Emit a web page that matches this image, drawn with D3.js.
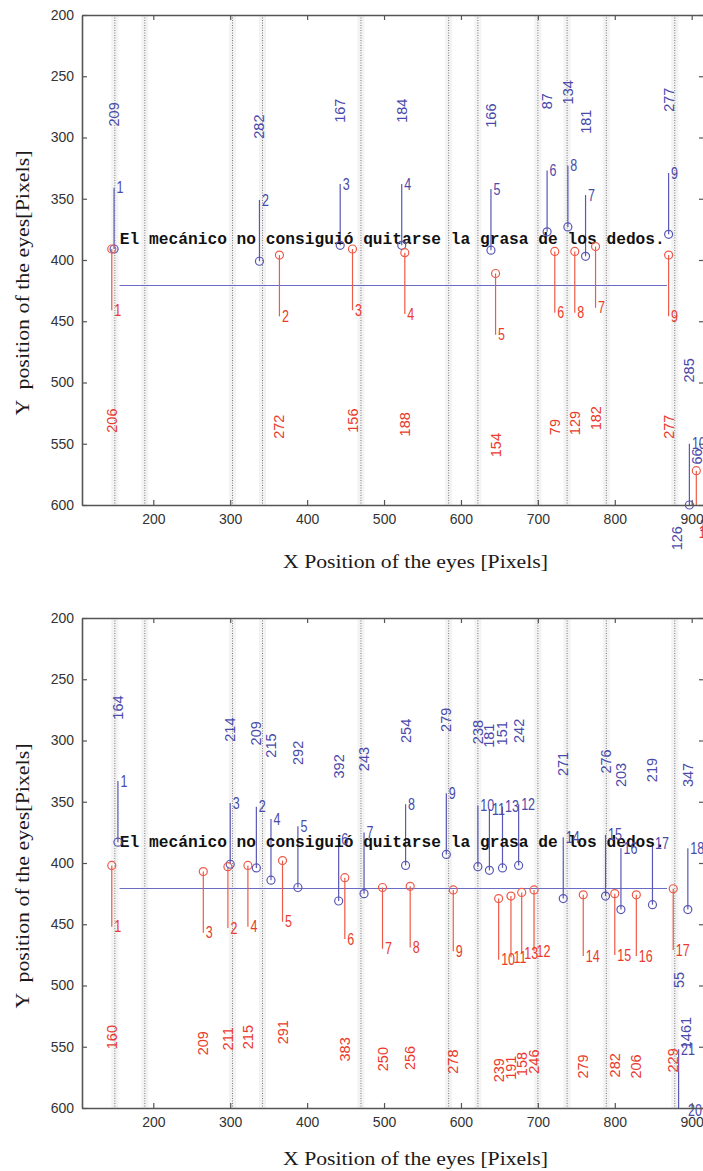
<!DOCTYPE html>
<html>
<head>
<meta charset="utf-8">
<script src="https://cdn.jsdelivr.net/npm/d3@7/dist/d3.min.js"></script>
<style>
  body { margin: 0; background: #fff; }
  text { white-space: pre; }
</style>
</head>
<body>
<div id="main"></div>
<script>

var sentence = 'El mecánico no consiguió quitarse la grasa de los dedos.';
var xTicks = [200, 300, 400, 500, 600, 700, 800, 900];
var yTicks = [200, 250, 300, 350, 400, 450, 500, 550, 600];
// word boundaries (dotted lines)
var wordBounds = [150, 189, 303, 342, 470, 584, 622, 700, 738, 789, 878];
// baseline of the sentence and the reading line
var textX = 156.5, textY = 387;
var lineY = 420, lineStart = 156, lineEnd = 868;

// top panel - blue fixations
var blueA_idx = [1, 2, 3, 4, 5, 6, 7, 8, 9, 10, 11, 12];
var blueA_x = [149, 338, 443, 523, 639, 712, 762, 739, 870, 897, 907, 881];
var blueA_y = [391, 401, 388, 388, 392, 377, 397, 373, 379, 600, 667, 737];
var blueA_dur = [209, 282, 167, 184, 166, 87, 181, 134, 277, 285, 66, 126];

// top panel - red fixations
var redA_idx = [1, 2, 3, 4, 5, 6, 7, 8, 9, 10];
var redA_x = [146, 364, 459, 527, 645, 722, 775, 748, 870, 906];
var redA_y = [391, 396, 391, 394, 411, 393, 389, 393, 396, 572];
var redA_dur = [206, 272, 156, 188, 154, 79, 182, 129, 277, null];

// bottom panel - blue fixations
var blueB_idx = [1, 2, 3, 4, 5, 6, 7, 8, 9, 10, 11, 12, 13, 14, 15, 16, 17, 18, 20, 21];
var blueB_x = [154, 334, 300, 353, 388, 441, 474, 528, 581, 622, 637, 675, 654, 733, 788, 808, 849, 895, 892, 883];
var blueB_y = [383, 404, 401, 414, 420, 431, 425, 402, 393, 403, 406, 402, 404, 429, 427, 438, 434, 438, 652, 602];
var blueB_dur = [164, 209, 214, 215, 292, 392, 243, 254, 279, 238, 181, 242, 151, 271, 276, 203, 219, 347, 1461, 55];

// bottom panel - red fixations
var redB_idx = [1, 2, 3, 4, 5, 6, 7, 8, 9, 10, 11, 12, 13, 14, 15, 16, 17];
var redB_x = [146, 297, 265, 323, 368, 449, 498, 534, 590, 649, 665, 695, 679, 759, 800, 828, 876];
var redB_y = [402, 403, 407, 402, 398, 412, 420, 419, 422, 429, 427, 422, 424, 426, 425, 426, 421];
var redB_dur = [160, 211, 209, 215, 291, 383, 250, 256, 278, 239, 191, 246, 158, 279, 282, 206, 229];

var stemLen = 50;
var blue = '#5858b6', blueText = '#4a4aaa';
var red = '#ee5a48', redText = '#ea3a2c';

var width = 703, height = 1171;

var svg = d3.select('#main').append('svg')
  .attr('width', width).attr('height', height)
  .style('font-family', '"Liberation Sans", Arial, sans-serif');

function zip(idx, xs, ys, durs) {
  return idx.map(function (d, i) {
    return { idx: d, x: xs[i], y: ys[i], dur: durs[i] };
  });
}

function draw_panel(id, top, clipTop, clipBottom, xTitleY, yTitleY, blues, reds) {

  var x = d3.scaleLinear().domain([107.3, 916]).range([82, 704]);
  var y = d3.scaleLinear().domain([200, 600]).range([top, top + 490]);

  var defs = svg.append('defs');
  defs.append('clipPath').attr('id', 'plot' + id)
    .append('rect').attr('x', 82).attr('y', top).attr('width', 622).attr('height', 490);
  defs.append('clipPath').attr('id', 'panel' + id)
    .append('rect').attr('x', 0).attr('y', clipTop).attr('width', width).attr('height', clipBottom - clipTop);

  var g = svg.append('g').attr('clip-path', 'url(#panel' + id + ')');
  var plot = g.append('g').attr('clip-path', 'url(#plot' + id + ')');

  // word boundary lines
  plot.selectAll('.band')
    .data(wordBounds)
    .enter()
    .append('line')
    .attr('x1', function (d) { return x(d); })
    .attr('x2', function (d) { return x(d); })
    .attr('y1', top).attr('y2', top + 490)
    .attr('stroke', '#f3f3f3').attr('stroke-width', 7);

  plot.selectAll('.bound')
    .data(wordBounds)
    .enter()
    .append('line')
    .attr('x1', function (d) { return x(d); })
    .attr('x2', function (d) { return x(d); })
    .attr('y1', top).attr('y2', top + 490)
    .attr('stroke', '#7a7a7a').attr('stroke-width', 1)
    .attr('stroke-dasharray', '1,1.5');

  // sentence
  g.append('text')
    .attr('x', x(textX)).attr('y', y(textY))
    .attr('font-family', '"Liberation Mono", "Courier New", monospace')
    .attr('font-weight', 'bold')
    .attr('font-size', 16.5)
    .attr('textLength', 545)
    .attr('lengthAdjust', 'spacingAndGlyphs')
    .attr('fill', '#111')
    .text(sentence);

  // reading line
  plot.append('line')
    .attr('x1', x(lineStart)).attr('x2', x(lineEnd))
    .attr('y1', Math.round(y(lineY)) + 0.5).attr('y2', Math.round(y(lineY)) + 0.5)
    .attr('stroke', '#6b6bc4').attr('stroke-width', 1.2);

  function marks(data, color, textColor, dir, durOffset) {

    plot.selectAll(null)
      .data(data)
      .enter()
      .append('line')
      .attr('x1', function (d) { return x(d.x); })
      .attr('x2', function (d) { return x(d.x); })
      .attr('y1', function (d) { return y(d.y); })
      .attr('y2', function (d) { return y(d.y + dir * stemLen); })
      .attr('stroke', color).attr('stroke-width', 1.2);

    g.selectAll(null)
      .data(data.filter(function (d) { return d.y <= 600 && d.x <= 916; }))
      .enter()
      .append('circle')
      .attr('cx', function (d) { return x(d.x); })
      .attr('cy', function (d) { return y(d.y); })
      .attr('r', 4)
      .attr('fill', 'none')
      .attr('stroke', color).attr('stroke-width', 1.2);

    g.selectAll(null)
      .data(data)
      .enter()
      .append('text')
      .attr('transform', function (d) {
        return 'translate(' + (x(d.x) + 2.5) + ',' + y(d.y + dir * stemLen) + ') scale(0.76,1)';
      })
      .attr('dominant-baseline', 'central')
      .attr('font-size', 16.5)
      .attr('fill', textColor)
      .text(function (d) { return d.idx; });

    g.selectAll(null)
      .data(data.filter(function (d) { return d.dur !== null; }))
      .enter()
      .append('text')
      .attr('transform', function (d) {
        return 'translate(' + x(d.x) + ',' + y(d.y + durOffset) + ') rotate(-90)';
      })
      .attr('dominant-baseline', 'central')
      .attr('font-size', 14.5)
      .attr('fill', textColor)
      .text(function (d) { return d.dur; });
  }

  marks(blues, blue, blueText, -1, -100);
  marks(reds, red, redText, 1, 150);

  // axes
  var ax = g.append('g');
  ax.append('g')
    .attr('transform', 'translate(82,0)')
    .call(d3.axisLeft(y).tickValues(yTicks).tickSize(-5).tickSizeOuter(0).tickPadding(8));
  ax.append('g')
    .attr('transform', 'translate(0,' + (top + 490) + ')')
    .call(d3.axisBottom(x).tickValues(xTicks).tickSize(-5).tickSizeOuter(0).tickPadding(9));
  ax.append('g')
    .attr('transform', 'translate(0,' + top + ')')
    .call(d3.axisTop(x).tickValues(xTicks).tickSize(-5).tickSizeOuter(0).tickFormat(''));
  ax.append('g')
    .attr('transform', 'translate(704,0)')
    .call(d3.axisRight(y).tickValues(yTicks).tickSize(-5).tickSizeOuter(0).tickFormat(''));

  ax.selectAll('.domain').attr('stroke', '#555').attr('stroke-width', 1.6);
  ax.selectAll('.tick line').attr('stroke', '#555').attr('stroke-width', 1.2);
  ax.selectAll('.tick text')
    .attr('font-family', '"Liberation Sans", Arial, sans-serif')
    .attr('font-size', 14)
    .attr('fill', '#333');

  // titles
  g.append('text')
    .attr('x', 415.5).attr('y', xTitleY)
    .attr('text-anchor', 'middle')
    .attr('font-family', '"Liberation Serif", "DejaVu Serif", serif')
    .attr('font-size', 19)
    .attr('textLength', 265)
    .attr('lengthAdjust', 'spacingAndGlyphs')
    .attr('fill', '#1a1a1a')
    .text('X Position of the eyes [Pixels]');

  g.append('text')
    .attr('transform', 'translate(29,' + yTitleY + ') rotate(-90)')
    .attr('text-anchor', 'middle')
    .attr('font-family', '"Liberation Serif", "DejaVu Serif", serif')
    .attr('font-size', 19)
    .attr('textLength', 265)
    .attr('lengthAdjust', 'spacingAndGlyphs')
    .attr('fill', '#1a1a1a')
    .text('Y  position of the eyes[Pixels]');
}

draw_panel('A', 15, 0, 596, 568, 283,
  zip(blueA_idx, blueA_x, blueA_y, blueA_dur),
  zip(redA_idx, redA_x, redA_y, redA_dur));

draw_panel('B', 618, 596, height, 1165, 876,
  zip(blueB_idx, blueB_x, blueB_y, blueB_dur),
  zip(redB_idx, redB_x, redB_y, redB_dur));

</script>
</body>
</html>
